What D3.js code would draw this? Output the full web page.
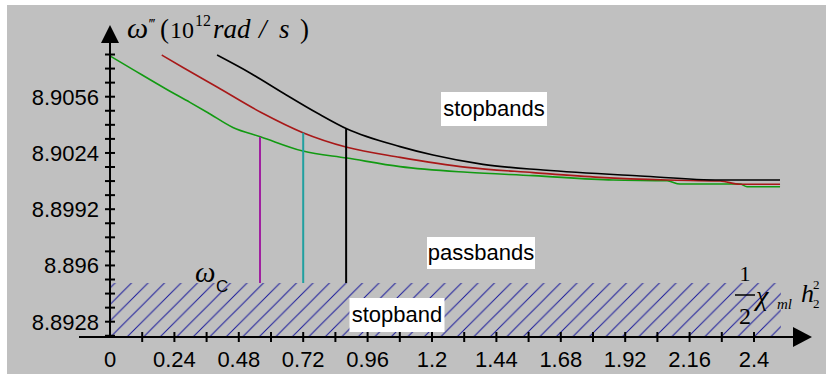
<!DOCTYPE html>
<html>
<head>
<meta charset="utf-8">
<script src="https://cdn.jsdelivr.net/npm/d3@7"></script>
<style>
  body { margin: 0; background: #fff; }
  text { font-family: "Liberation Sans", Arial, sans-serif; }
  .serif { font-family: "Liberation Serif", "Times New Roman", serif; }
</style>
</head>
<body>
<svg id="chart"></svg>
<script>
var width = 826, height = 374;

// curve data: x = (1/2) chi h^2, y = omega''' (10^12 rad/s)
var greenX = [0, 0.086, 0.212, 0.298, 0.365, 0.458, 0.563, 0.719, 0.883, 1.081, 1.331, 1.577, 1.875, 2.076, 2.124, 2.348, 2.374, 2.497];
var greenY = [8.90792, 8.90714, 8.90601, 8.90528, 8.90469, 8.90385, 8.90331, 8.90251, 8.90211, 8.90162, 8.90130, 8.90111, 8.90086, 8.90082, 8.90063, 8.90063, 8.90048, 8.90048];
var redX = [0.193, 0.272, 0.399, 0.567, 0.719, 0.883, 1.081, 1.331, 1.577, 1.826, 2.076, 2.274, 2.348, 2.497];
var redY = [8.90797, 8.90726, 8.90615, 8.90467, 8.90355, 8.90272, 8.90215, 8.90158, 8.90128, 8.90101, 8.90086, 8.90080, 8.90062, 8.90062];
var blackX = [0.399, 0.522, 0.645, 0.772, 0.884, 1.081, 1.204, 1.390, 1.614, 1.976, 2.274, 2.497];
var blackY = [8.90797, 8.90695, 8.90581, 8.90467, 8.90376, 8.90276, 8.90228, 8.90175, 8.90143, 8.90109, 8.90086, 8.90086];

// omega_c markers
var wcX = [0.559, 0.720, 0.880];
var wcTop = [8.90331, 8.90355, 8.90376];
var wcColor = ["#a020a0", "#20a0a0", "#000000"];
var stopbandTop = 8.895;
var stopbandEnd = 2.5;

// ticks
var xTicks = [0, 0.24, 0.48, 0.72, 0.96, 1.2, 1.44, 1.68, 1.92, 2.16, 2.4];
var xTickLabels = ["0", "0.24", "0.48", "0.72", "0.96", "1.2", "1.44", "1.68", "1.92", "2.16", "2.4"];
var xMinor = [0.12, 0.24, 0.36, 0.48, 0.6, 0.72, 0.84, 0.96, 1.08, 1.2, 1.32, 1.44, 1.56, 1.68, 1.8, 1.92, 2.04, 2.16, 2.28, 2.4];
var yTicks = [8.8928, 8.896, 8.8992, 8.9024, 8.9056];
var yTickLabels = ["8.8928", "8.896", "8.8992", "8.9024", "8.9056"];
var yMinor = d3.range(0, 21).map(function (i) { return 8.892 + i * 0.0008; });

var svg = d3.select("#chart").attr("width", width).attr("height", height);

var x = d3.scaleLinear().domain([0, 2.4]).range([110, 754]);
var y = d3.scaleLinear().domain([8.8928, 8.9056]).range([321.7, 96.7]);
var axisY = 337, axisX = 110;

// grey panel
svg.append("rect").attr("x", 7).attr("y", 5).attr("width", width - 7).attr("height", height - 5).attr("fill", "#c0c0c0");

// hatched stopband
var defs = svg.append("defs");
var pat = defs.append("pattern").attr("id", "hatch")
  .attr("patternUnits", "userSpaceOnUse").attr("width", 16.5).attr("height", 16.5)
  .attr("x", 2).attr("y", 0);
pat.append("path").attr("d", "M-2,2 L2,-2 M0,16.5 L16.5,0 M14.5,18.5 L18.5,14.5")
  .attr("stroke", "#1a1a9a").attr("stroke-width", 1).attr("fill", "none");
svg.append("rect")
  .attr("x", x(0)).attr("y", y(stopbandTop))
  .attr("width", x(stopbandEnd) - x(0)).attr("height", axisY - y(stopbandTop))
  .attr("fill", "url(#hatch)");

// curves
var line = d3.line()
  .x(function (d) { return x(d[0]); })
  .y(function (d) { return y(d[1]); })
  .curve(d3.curveMonotoneX);

var series = [
  { xs: greenX, ys: greenY, color: "#129a12" },
  { xs: redX, ys: redY, color: "#a81818" },
  { xs: blackX, ys: blackY, color: "#000000" }
];
series.forEach(function (s) {
  svg.append("path")
    .datum(d3.zip(s.xs, s.ys))
    .attr("fill", "none")
    .attr("stroke", s.color)
    .attr("stroke-width", 1.6)
    .attr("d", line);
});

// omega_c verticals
svg.selectAll(".wc")
  .data(wcX)
  .enter().append("line")
  .attr("x1", function (d) { return x(d); })
  .attr("x2", function (d) { return x(d); })
  .attr("y1", function (d, i) { return y(wcTop[i]); })
  .attr("y2", y(stopbandTop))
  .attr("stroke", function (d, i) { return wcColor[i]; })
  .attr("stroke-width", 2);

// axes
svg.append("line").attr("x1", 79).attr("x2", 800).attr("y1", axisY).attr("y2", axisY)
  .attr("stroke", "#000").attr("stroke-width", 2);
svg.append("path").attr("d", "M793," + (axisY - 10) + " L812," + axisY + " L793," + (axisY + 10) + "Z").attr("fill", "#000");
svg.append("line").attr("x1", axisX).attr("x2", axisX).attr("y1", 40).attr("y2", axisY)
  .attr("stroke", "#000").attr("stroke-width", 2);
svg.append("path").attr("d", "M" + (axisX - 9) + ",43 L" + axisX + ",25 L" + (axisX + 9) + ",43Z").attr("fill", "#000");

svg.selectAll(".xt").data(xMinor).enter().append("line")
  .attr("x1", function (d) { return x(d); }).attr("x2", function (d) { return x(d); })
  .attr("y1", axisY - 5).attr("y2", axisY + 5)
  .attr("stroke", "#000").attr("stroke-width", 2);
svg.selectAll(".yt").data(yMinor).enter().append("line")
  .attr("x1", axisX - 5).attr("x2", axisX + 5)
  .attr("y1", function (d) { return y(d); }).attr("y2", function (d) { return y(d); })
  .attr("stroke", "#000").attr("stroke-width", 2);

svg.selectAll(".xl").data(xTicks).enter().append("text")
  .attr("x", function (d) { return x(d); }).attr("y", 367)
  .attr("text-anchor", "middle").attr("font-size", 22).attr("fill", "#000")
  .text(function (d, i) { return xTickLabels[i]; });
svg.selectAll(".yl").data(yTicks).enter().append("text")
  .attr("x", 99).attr("y", function (d) { return y(d) + 8; })
  .attr("text-anchor", "end").attr("font-size", 22).attr("fill", "#000")
  .text(function (d, i) { return yTickLabels[i]; });

// labelled boxes
function box(cx, cy, w, h, label) {
  svg.append("rect").attr("x", cx - w / 2).attr("y", cy - h / 2).attr("width", w).attr("height", h).attr("fill", "#fff");
  svg.append("text").attr("x", cx).attr("y", cy + 7).attr("text-anchor", "middle")
    .attr("font-size", 22).attr("fill", "#000").text(label);
}
box(494, 109, 106, 34, "stopbands");
box(481, 253, 108, 32, "passbands");
box(397, 315, 95, 34, "stopband");

// y axis title, pieces placed one by one
var t = svg.append("text").attr("class", "serif").attr("y", 38).attr("font-size", 27).attr("fill", "#000");
t.append("tspan").attr("x", 127).attr("font-style", "italic").attr("font-size", 30).text("ω");
t.append("tspan").attr("x", 149).attr("y", 29).attr("font-size", 15).text("‴");
t.append("tspan").attr("x", 160).attr("y", 38).text("(");
t.append("tspan").attr("x", 170).attr("y", 38).attr("font-size", 24).text("10");
t.append("tspan").attr("x", 195).attr("y", 26).attr("font-size", 16).text("12");
t.append("tspan").attr("x", 213).attr("y", 38).attr("font-style", "italic").text("rad");
t.append("tspan").attr("x", 259).attr("y", 38).attr("font-style", "italic").text("/");
t.append("tspan").attr("x", 279).attr("y", 38).attr("font-style", "italic").text("s");
t.append("tspan").attr("x", 300).attr("y", 38).text(")");

// omega_c label
var wl = svg.append("text").attr("class", "serif").attr("x", 195).attr("y", 282).attr("font-size", 29).attr("fill", "#000");
wl.append("tspan").attr("font-style", "italic").text("ω");
wl.append("tspan").attr("x", 216).attr("y", 292).attr("font-size", 17).style("font-family", "Liberation Sans").text("C");

// x axis title: (1/2) chi_ml h_2^2
svg.append("text").attr("class", "serif").attr("x", 745).attr("y", 281).attr("text-anchor", "middle").attr("font-size", 22).text("1");
svg.append("line").attr("x1", 735).attr("x2", 755).attr("y1", 295).attr("y2", 295).attr("stroke", "#000").attr("stroke-width", 1.5);
svg.append("text").attr("class", "serif").attr("x", 745).attr("y", 324).attr("text-anchor", "middle").attr("font-size", 24).text("2");
var xl = svg.append("text").attr("class", "serif").attr("x", 756).attr("y", 305).attr("font-size", 28).attr("font-style", "italic");
xl.append("tspan").text("χ");
xl.append("tspan").attr("x", 777).attr("y", 309).attr("font-size", 15).text("ml");
var hl = svg.append("text").attr("class", "serif").attr("x", 801).attr("y", 302).attr("font-size", 26).attr("font-style", "italic");
hl.append("tspan").text("h");
hl.append("tspan").attr("x", 813).attr("y", 289).attr("font-size", 13).attr("font-style", "normal").text("2");
hl.append("tspan").attr("x", 813).attr("y", 308).attr("font-size", 13).attr("font-style", "normal").text("2");
</script>
</body>
</html>
